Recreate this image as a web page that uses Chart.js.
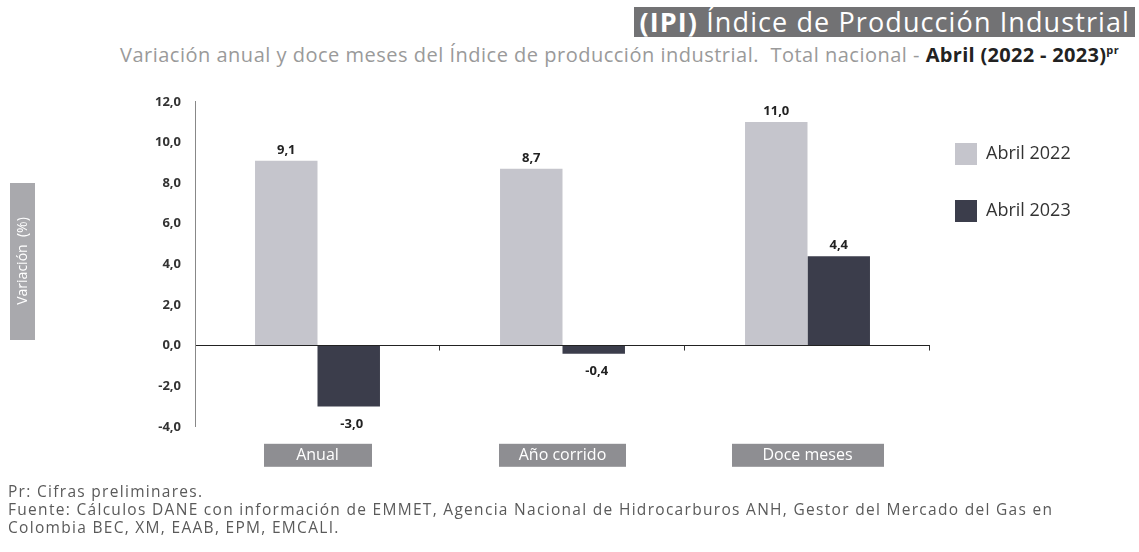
<!DOCTYPE html>
<html>
<head>
<meta charset="utf-8">
<script src="https://cdn.jsdelivr.net/npm/chart.js@4/dist/chart.umd.min.js"></script>
<style>
  body { margin: 0; background: #fff; font-family: "Open Sans", sans-serif; }
  #wrap { position: relative; width: 1139px; height: 552px; overflow: hidden; }
  #title { position: absolute; right: 4px; top: 7px; height: 30px; line-height: 30px; padding: 0 5px;
           background: #727274; color: #fff; font-size: 27px; letter-spacing: 1.1px; white-space: nowrap; }
  #title b { font-weight: 700; }
  #subtitle { position: absolute; left: 120px; top: 41px; font-size: 20px; letter-spacing: 0.5px; color: #9a9a9a; white-space: nowrap; }
  #subtitle b { color: #222; letter-spacing: 0.3px; }
  #subtitle sup { font-size: 11px; color: #222; font-weight: 700; }
  #notes { position: absolute; left: 8px; top: 482px; font-size: 15.5px; letter-spacing: 1.3px; color: #5a5a5a; line-height: 18px; white-space: nowrap; }
  #chartBox { position: absolute; left: 0; top: 80px; width: 1139px; height: 404px; }
</style>
</head>
<body>
<div id="wrap">
  <div id="title"><b>(IPI)</b> Índice de Producción Industrial</div>
  <div id="subtitle">Variación anual y doce meses del Índice de producción industrial.&nbsp; Total nacional - <b>Abril (2022 - 2023)</b><sup>pr</sup></div>
  <div id="chartBox"><canvas id="myChart"></canvas></div>
  <div id="notes">Pr: Cifras preliminares.<br>Fuente: Cálculos DANE con información de EMMET, Agencia Nacional de Hidrocarburos ANH, Gestor del Mercado del Gas en<br>Colombia BEC, XM, EAAB, EPM, EMCALI.</div>
</div>
<script>
var categories = ['Anual', 'Año corrido', 'Doce meses'];
var abril2022 = [9.1, 8.7, 11.0];
var abril2023 = [-3.0, -0.4, 4.4];
var seriesNames = ['Abril 2022', 'Abril 2023'];
var yTicks = [-4, -2, 0, 2, 4, 6, 8, 10, 12];
var labelBoxW = [108, 127, 152];

function fmt(v) { return v.toFixed(1).replace('.', ','); }

// cajas de categorias, etiquetas de valor, titulo del eje y
const extras = {
    id: 'extras',
    beforeLayout(chart) {
        var lg = chart.legend;
        if (lg && !lg._wrapped) {
            var f = lg.fit;
            lg.fit = function () { f.call(this); this.width = 209; };
            lg._wrapped = true;
        }
    },
    afterLayout(chart) {
        var lg = chart.legend, pad = lg.options.labels.padding;
        var dx = 955 - (lg.left + pad), dy = 63 - (lg.top + pad);
        lg.left += dx; lg.right += dx; lg.top += dy; lg.bottom += dy;
    },
    beforeDraw(chart) {
        var c = chart.ctx, x = chart.scales.x, b = chart.chartArea.bottom;
        c.save();
        c.fillStyle = '#8e8e92';
        categories.forEach(function (cat, i) {
            var px = x.getPixelForTick(i);
            c.fillRect(Math.round(px - labelBoxW[i] / 2), b + 17, labelBoxW[i], 23);
        });
        c.restore();
    },
    afterDatasetsDraw(chart) {
        const c = chart.ctx;
        c.save();
        c.font = 'bold 13px "Open Sans"';
        c.fillStyle = '#222';
        c.textAlign = 'center';
        chart.data.datasets.forEach(function (ds, i) {
            chart.getDatasetMeta(i).data.forEach(function (bar, j) {
                var v = ds.data[j];
                if (v >= 0) {
                    c.textBaseline = 'bottom';
                    c.fillText(fmt(v), bar.x, bar.y - 4);
                } else {
                    c.textBaseline = 'top';
                    c.fillText(fmt(v), bar.x + 3, bar.y + 11);
                }
            });
        });
        // marcas entre categorias sobre la linea cero
        var x = chart.scales.x, y0 = chart.scales.y.getPixelForValue(0);
        c.strokeStyle = '#333';
        c.lineWidth = 1;
        for (var k = 1; k <= categories.length; k++) {
            var px = Math.round(x.left + (x.right - x.left) * k / categories.length) - 0.5;
            c.beginPath(); c.moveTo(px, y0); c.lineTo(px, y0 + 5); c.stroke();
        }
        // titulo eje y
        c.fillStyle = '#a9a9ad';
        c.fillRect(10, 103, 25, 157);
        c.translate(23, 181);
        c.rotate(-Math.PI / 2);
        c.fillStyle = '#fff';
        c.font = '14px "Open Sans"';
        c.textBaseline = 'middle';
        c.fillText('Variación  (%)', 0, 0);
        c.restore();
    }
};

new Chart(document.getElementById('myChart'), {
    type: 'bar',
    data: {
        labels: categories,
        datasets: [{
            label: seriesNames[0],
            data: abril2022,
            backgroundColor: '#c5c5cc'
        }, {
            label: seriesNames[1],
            data: abril2023,
            backgroundColor: '#3b3d4b'
        }]
    },
    options: {
        responsive: true,
        maintainAspectRatio: false,
        animation: false,
        layout: { padding: { left: 0, right: 0, top: 15, bottom: 0 } },
        categoryPercentage: 0.51,
        barPercentage: 1.0,
        plugins: {
            legend: {
                position: 'right',
                align: 'start',
                labels: {
                    boxWidth: 22,
                    boxHeight: 22,
                    padding: 35,
                    color: '#333',
                    font: { family: 'Open Sans', size: 18 }
                }
            },
            tooltip: { enabled: false }
        },
        scales: {
            x: {
                grid: { display: false, drawTicks: false },
                border: { display: false },
                ticks: {
                    padding: 19,
                    color: '#fff',
                    font: { family: 'Open Sans', size: 16 }
                }
            },
            y: {
                min: yTicks[0],
                max: yTicks[yTicks.length - 1],
                afterBuildTicks: function (s) { s.ticks = yTicks.map(function (v) { return { value: v }; }); },
                afterFit: function (s) { s.width = 195; },
                grid: {
                    drawTicks: false,
                    color: function (ctx) { return ctx.tick && ctx.tick.value === 0 ? '#222' : 'transparent'; }
                },
                border: { color: '#888' },
                ticks: {
                    padding: 14,
                    color: '#333',
                    font: { family: 'Open Sans', size: 13, weight: 'bold' },
                    callback: function (v) { return fmt(v); }
                }
            }
        }
    },
    plugins: [extras]
});
</script>
</body>
</html>
